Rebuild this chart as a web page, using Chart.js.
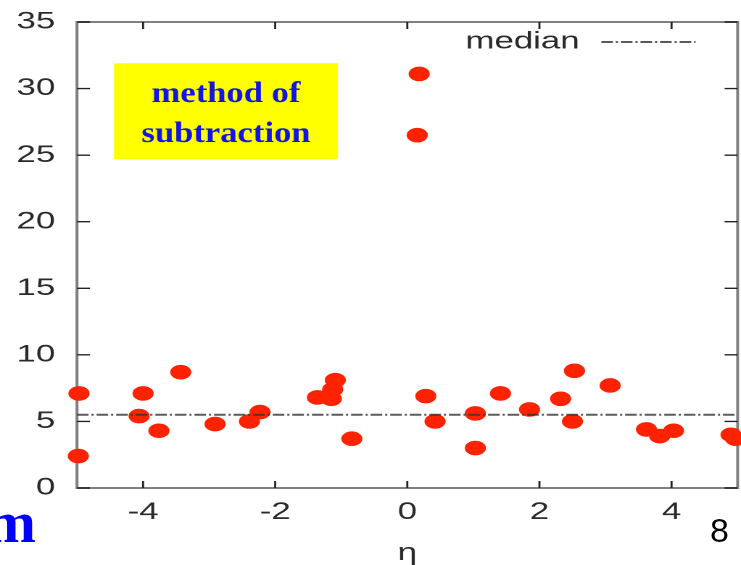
<!DOCTYPE html>
<html><head><meta charset="utf-8">
<script src="https://cdn.jsdelivr.net/npm/chart.js@4.4.1/dist/chart.umd.min.js"></script>
<style>
html,body{margin:0;padding:0;background:#fff;overflow:hidden;width:741px;height:565px;position:relative;}
#wrap{position:absolute;left:0;top:0;width:516px;height:565px;transform-origin:0 0;transform:scaleX(1.45);}
#c{display:block;}
.slideM{position:absolute;left:-14px;top:492px;font:bold 60px/1 "Liberation Serif",serif;color:#0000ff;white-space:nowrap;}
.pageNo{position:absolute;left:710px;top:513px;font:34px/1 "Liberation Sans",Arial,sans-serif;color:#000;background:transparent;}
</style></head>
<body>
<div id="wrap"><canvas id="c" width="516" height="565"></canvas></div>
<div class="slideM">m</div>
<div class="pageNo">8</div>
<script>
// ---- data ----
const etaValues = [-4.97, -4.98, -4.0, -4.06, -3.76, -3.43, -2.91, -2.39, -2.23, -1.36, -1.15, -1.13, -1.09, -0.84,
                   0.18, 0.15, 0.28, 0.42, 1.03, 1.03, 1.41, 1.85, 2.32, 2.53, 2.5, 3.07, 3.62, 3.82, 4.03, 4.9, 4.97];
const subtractedValues = [7.1, 2.4, 7.1, 5.4, 4.3, 8.7, 4.8, 5.0, 5.7, 6.8, 6.7, 7.4, 8.1, 3.7,
                   31.1, 26.5, 6.9, 5.0, 5.6, 3.0, 7.1, 5.9, 6.7, 8.8, 5.0, 7.7, 4.4, 3.9, 4.3, 4.0, 3.7];
const medianValue = 5.5;
const xRange = [-5, 5];
const yRange = [0, 35];
const xTickValues = [-4, -2, 0, 2, 4];
const yTickValues = [0, 5, 10, 15, 20, 25, 30, 35];
const xTitle = 'η';
const legendLabel = 'median';
const boxLines = ['method of', 'subtraction'];
const boxEta = [-4.44, -1.05];
const boxVal = [24.7, 31.9];

const DASH = [8, 2, 1.5, 2];

const framePlugin = {
  id: 'frame',
  beforeDatasetsDraw(chart) {
    const ctx = chart.ctx, a = chart.chartArea;
    const xs = chart.scales.x, ys = chart.scales.y;
    ctx.save();
    // frame
    ctx.strokeStyle = '#808080';
    ctx.lineWidth = 2;
    ctx.strokeRect(a.left, a.top, a.right - a.left, a.bottom - a.top);
    // inward ticks
    ctx.strokeStyle = '#222';
    ctx.lineWidth = 1.4;
    ctx.beginPath();
    xTickValues.forEach(v => {
      const px = xs.getPixelForValue(v);
      ctx.moveTo(px, a.bottom); ctx.lineTo(px, a.bottom - 7);
      ctx.moveTo(px, a.top); ctx.lineTo(px, a.top + 7);
    });
    yTickValues.forEach(v => {
      const py = ys.getPixelForValue(v);
      ctx.moveTo(a.left, py); ctx.lineTo(a.left + 9, py);
      ctx.moveTo(a.right, py); ctx.lineTo(a.right - 9, py);
    });
    ctx.stroke();
    // legend
    ctx.font = '24px "Liberation Sans", Arial, sans-serif';
    ctx.fillStyle = '#2a2a2a';
    ctx.textAlign = 'right';
    ctx.textBaseline = 'middle';
    const ly = a.top + 20;
    ctx.fillText(legendLabel, a.right - 109, ly);
    ctx.strokeStyle = '#222';
    ctx.lineWidth = 1.5;
    ctx.setLineDash(DASH);
    ctx.beginPath();
    ctx.moveTo(a.right - 94, ly); ctx.lineTo(a.right - 29, ly);
    ctx.stroke();
    ctx.setLineDash([]);
    // yellow annotation box
    const bx0 = xs.getPixelForValue(boxEta[0]), bx1 = xs.getPixelForValue(boxEta[1]);
    const by0 = ys.getPixelForValue(boxVal[1]), by1 = ys.getPixelForValue(boxVal[0]);
    ctx.fillStyle = '#ffff00';
    ctx.fillRect(bx0, by0, bx1 - bx0, by1 - by0);
    ctx.font = 'bold 30px "Liberation Serif", "Times New Roman", serif';
    ctx.fillStyle = '#1414e6';
    ctx.textAlign = 'center';
    ctx.textBaseline = 'alphabetic';
    const k = 116.6 / ctx.measureText(boxLines[1]).width;
    const cx = (bx0 + bx1) / 2;
    boxLines.forEach((t, i) => {
      ctx.save();
      ctx.translate(cx, by0 + 38.5 + i * 40);
      ctx.scale(k, 1);
      ctx.fillText(t, 0, 0);
      ctx.restore();
    });
    ctx.restore();
  }
};

const tickFont = {family: '"Liberation Sans", Arial, sans-serif', size: 24};

new Chart(document.getElementById('c'), {
  type: 'scatter',
  data: {
    datasets: [
      {
        label: 'points',
        data: etaValues.map((x, i) => ({x: x, y: subtractedValues[i]})),
        backgroundColor: '#ff2200',
        borderWidth: 0,
        pointRadius: 7.3,
        pointHoverRadius: 7.3,
        order: 1,
        clip: false
      },
      {
        type: 'line',
        label: legendLabel,
        data: xRange.map(x => ({x: x, y: medianValue})),
        borderColor: 'rgba(50,50,50,0.8)',
        borderWidth: 2,
        borderDash: DASH,
        pointRadius: 0,
        fill: false,
        order: 0
      }
    ]
  },
  options: {
    responsive: false,
    devicePixelRatio: 2,
    animation: false,
    events: [],
    layout: {padding: {left: 0, top: 22, right: 0, bottom: 0}},
    plugins: {legend: {display: false}, tooltip: {enabled: false}},
    scales: {
      x: {
        type: 'linear', min: xRange[0], max: xRange[1],
        grid: {display: false, drawTicks: false},
        border: {display: false},
        ticks: {font: tickFont, color: '#2a2a2a', padding: 10, maxRotation: 0, autoSkip: false},
        afterBuildTicks: s => { s.ticks = xTickValues.map(v => ({value: v})); },
        afterFit: s => { s.height = 77; s.paddingLeft = 0; s.paddingRight = 0; },
        title: {display: true, text: xTitle, font: tickFont, color: '#2a2a2a', padding: {top: 0, bottom: -3}}
      },
      y: {
        type: 'linear', min: yRange[0], max: yRange[1],
        grid: {display: false, drawTicks: false},
        border: {display: false},
        ticks: {font: tickFont, color: '#2a2a2a', padding: 15, autoSkip: false},
        afterBuildTicks: s => { s.ticks = yTickValues.map(v => ({value: v})); },
        afterFit: s => { s.width = 53.1; s.paddingTop = 0; s.paddingBottom = 0; }
      }
    }
  },
  plugins: [framePlugin]
});
</script>
</body></html>
